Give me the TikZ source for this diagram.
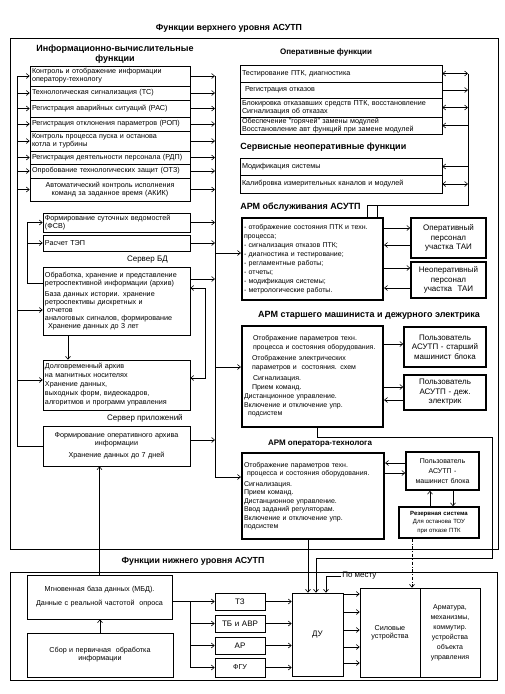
\documentclass[tikz,border=0pt]{standalone}
\usepackage{fontspec}
\setmainfont{Liberation Sans}
\usetikzlibrary{arrows.meta}
\newcommand{\txt}{\fontsize{7.2}{8}\selectfont}
\newcommand{\sml}{\fontsize{7}{8.5}\selectfont}
\newcommand{\hda}{\fontsize{9}{10.5}\selectfont\bfseries}
\newcommand{\hdb}{\fontsize{8}{9}\selectfont\bfseries}
\tikzstyle{blk}=[draw, rectangle, inner xsep = 2pt, inner ysep = 1pt, font = \txt, align = left]
\tikzstyle{arm}=[blk, line width = 2.2pt, font = \sml]
\tikzstyle{usr}=[blk, line width = 1.5pt, align = center, font = \fontsize{8}{9.5}\selectfont]
\tikzstyle{hd} =[inner sep = 0pt, font = \hdb]

\begin{document}
\begin{tikzpicture}[x = 1pt, y = -1pt, line width = .6pt, >={Straight Barb[length=3pt, width=5pt]}]
\useasboundingbox (0,0) rectangle (505,694);
\node (ttl) at (229,28) [hd, font = \fontsize{8.8}{10}\selectfont\bfseries] {Функции верхнего уровня АСУТП};
\draw (10,38) rectangle (498,549);
\draw (10,572) rectangle (497,680);
\coordinate (lb) at (17,0);
\coordinate (fb) at (27,0);
\coordinate (ib) at (205,0);
\coordinate (rb) at (215,0);
\coordinate (ob) at (468,0);
\coordinate (mb) at (190,0);
%%%%%%%%%%%%%%%%%%%%%%%
% information functions
\node (ivf) at (115,54) [hd, font = \hda, align = center] {Информационно-вычислительные\\функции};
\node (k1) at (110,76) [blk, text width = 156, minimum height = 20] {Контроль и отображение информации\\оператору-технологу};
\node (k2) at (110,93) [blk, text width = 156, minimum height = 14] {Технологическая сигнализация (ТС)};
\node (k3) at (110,108.5) [blk, text width = 156, minimum height = 17] {Регистрация аварийных ситуаций (РАС)};
\node (k4) at (110,124) [blk, text width = 156, minimum height = 14] {Регистрация отклонения параметров (РОП)};
\node (k5) at (110,141) [blk, text width = 156, minimum height = 20] {Контроль процесса пуска и останова\\котла и турбины};
\node (k6) at (110,157.5) [blk, text width = 156, minimum height = 13] {Регистрация деятельности персонала (РДП)};
\node (k7) at (110,171) [blk, text width = 156, minimum height = 14] {Опробование технологических защит (ОТЗ)};
\node (k8) at (110,189.5) [blk, text width = 156, minimum height = 23, align = center] {Автоматический контроль исполнения\\команд за заданное время (АКИК)};
\node (fsv) at (116.5,222.5) [blk, text width = 143, minimum height = 19] {Формирование суточных ведомостей\\(ФСВ)};
\node (tep) at (116.5,243) [blk, text width = 143, minimum height = 16] {Расчет ТЭП};
\node (sbd) at (168,260) [anchor = east, inner sep = 0pt, font = \fontsize{8}{9}\selectfont] {Сервер БД};
\node (db) at (116.5,301) [blk, text width = 143, minimum height = 68] {Обработка, хранение и представление\\ретроспективной информации (архив)\\[3pt]База данных истории. хранение\\ретроспективы дискретных и\\\hspace*{2pt}отчетов\\аналоговых сигналов, формирование\\\hspace*{3pt}Хранение данных до 3 лет};
\node (la) at (116.5,385) [blk, text width = 143, minimum height = 50, font = \fontsize{7.2}{9}\selectfont] {Долговременный архив\\на магнитных носителях\\Хранение данных,\\выходных форм, видеокадров,\\алгоритмов и программ управления};
\node (spr) at (183,418) [anchor = east, inner sep = 0pt, font = \fontsize{8}{9}\selectfont] {Сервер приложений};
\node (oa) at (116.5,446) [blk, text width = 143, minimum height = 40, align = center] {Формирование оперативного архива\\информации\\[4pt]Хранение данных до 7 дней};
%%%%%%%%%%%%%%%%%%%%%%%
% operative and service functions
\node (opf) at (326,52) [hd] {Оперативные функции};
\node (o1) at (341,73.5) [blk, text width = 198, minimum height = 17] {Тестирование ПТК, диагностика};
\node (o2) at (341,90) [blk, text width = 198, minimum height = 16] {\hspace*{3pt}Регистрация отказов};
\node (o3) at (341,107.5) [blk, text width = 198, minimum height = 19, font = \fontsize{7.2}{7.5}\selectfont] {Блокировка отказавших средств ПТК, восстановление\\Сигнализация об отказах};
\node (o4) at (341,125.5) [blk, text width = 198, minimum height = 17, font = \fontsize{7.2}{7.5}\selectfont] {Обеспечение "горячей" замены модулей\\Восстановление авт функций при замене модулей};
\node (snf) at (240,147) [hd, anchor = west, font = \hda] {Сервисные неоперативные функции};
\node (s1) at (341,166.5) [blk, text width = 198, minimum height = 17] {Модификация системы};
\node (s2) at (341,184) [blk, text width = 198, minimum height = 18] {Калибровка измерительных каналов и модулей};
%%%%%%%%%%%%%%%%%%%%%%%
% workstations
\node (h1) at (240,207) [hd, anchor = west, font = \hda] {АРМ обслуживания АСУТП};
\node (arm1) at (312.5,259) [arm, text width = 137, minimum height = 82, font = \fontsize{7}{9}\selectfont] {- отображение состояния ПТК и техн.\\процесса;\\- сигнализация отказов ПТК;\\- диагностика и тестирование;\\- регламентные работы;\\- отчеты;\\- модификация системы;\\- метрологические работы.};
\node (op1) at (448.5,238) [usr, text width = 71, minimum height = 40] {Оперативный\\персонал\\участка ТАИ};
\node (op2) at (448.5,280) [usr, text width = 71, minimum height = 36] {Неоперативный\\персонал\\участка \ ТАИ};
\node (h2) at (369,315) [hd, font = \hda] {АРМ старшего машиниста и дежурного электрика};
\node (arm2) at (312.5,376.5) [arm, text width = 137, minimum height = 101] {\hspace*{9pt}Отображение параметров техн.\\\hspace*{9pt}процесса и состояния оборудования.\\[3pt]\hspace*{8pt}Отображение электрических\\\hspace*{8pt}параметров и \ состояния. схем\\[3pt]\hspace*{9pt}Сигнализация.\\\hspace*{8pt}Прием команд.\\[1pt]Дистанционное управление.\\Включение и отключение упр.\\\hspace*{4pt}подсистем};
\node (u1) at (445,347) [usr, text width = 78, minimum height = 40] {Пользователь\\АСУТП - старший\\машинист блока};
\node (u2) at (445,392.5) [usr, text width = 78, minimum height = 35] {Пользователь\\АСУТП - деж.\\электрик};
\node (h3) at (320,444) [hd] {АРМ оператора-технолога};
\node (arm3) at (313,496) [arm, text width = 138, minimum height = 86] {Отображение параметров техн.\\\hspace*{3pt}процесса и состояния оборудования.\\[2pt]Сигнализация.\\Прием команд.\\Дистанционное управление.\\Ввод заданий регуляторам.\\Включение и отключение упр.\\подсистем};
\node (u3) at (442.5,471) [usr, text width = 69, minimum height = 38, font = \fontsize{7}{10}\selectfont] {Пользователь\\АСУТП -\\машинист блока};
\node (rs) at (439,522.5) [usr, text width = 76, minimum height = 31, font = \fontsize{6}{8.5}\selectfont] {\textbf{Резервная система}\\Для останова ТОУ\\при отказе ПТК};
%%%%%%%%%%%%%%%%%%%%%%%
% lower level
\node (h4) at (193,561) [hd, font = \fontsize{8.8}{10}\selectfont\bfseries] {Функции нижнего уровня АСУТП};
\node (mbd) at (99.5,597) [blk, text width = 141, minimum height = 44, align = center] {Мгновенная база данных (МБД).\\[6pt]Данные с реальной частотой \ опроса};
\node (sb) at (100,655) [blk, text width = 142, minimum height = 44, align = center] {Сбор и первичная \ обработка\\информации};
\node (t3) at (240,601.5) [blk, text width = 46, minimum height = 17, align = center, font = \fontsize{8}{9}\selectfont] {ТЗ};
\node (tb) at (240,623.5) [blk, text width = 46, minimum height = 17, align = center, font = \fontsize{8}{9}\selectfont] {ТБ и АВР};
\node (ar) at (240,645.5) [blk, text width = 46, minimum height = 17, align = center, font = \fontsize{8}{9}\selectfont] {АР};
\node (fgu) at (240,667.5) [blk, text width = 46, minimum height = 19, align = center] {ФГУ};
\node (du) at (317.5,634.5) [blk, text width = 47, minimum height = 83, align = center, font = \fontsize{8}{9}\selectfont] {ДУ};
\node (sil) at (390,632.5) [blk, text width = 56, minimum height = 89, align = center] {Силовые\\устройства};
\node (arm) at (450,632.5) [blk, text width = 56, minimum height = 89, align = center, font = \fontsize{7}{10}\selectfont] {Арматура,\\механизмы,\\коммутир.\\устройства\\объекта\\управления};
\node (pm) at (341,576) [anchor = west, inner sep = 1pt, font = \fontsize{8}{9}\selectfont] {По месту};
%%%%%%%%%%%%%%%%%%%%%%%
%%%%%%%%%%%%%%%%%%%%%%%
% left bus
\draw (oa.west) -- (lb |- oa) -- (lb |- k1);
\draw [->] (lb |- k1) to (k1.west);
\draw [->] (lb |- k2) to (k2.west);
\draw [->] (lb |- k3) to (k3.west);
\draw [->] (lb |- k4) to (k4.west);
\draw [->] (lb |- k5) to (k5.west);
\draw [->] (lb |- k6) to (k6.west);
\draw [->] (lb |- k7) to (k7.west);
\draw [->] (lb |- k8) to (k8.west);
\draw [->] (lb |- 0,310) to (db.west |- 0,310);
\draw [->] (lb |- 0,380) to (la.west |- 0,380);
% right bus
\draw [->] (rb |- k1) -- (rb |- 0,477) -- (arm3.west |- 0,477);
\draw [->] (k1.east) to (rb |- k1);
\draw [->] (k2.east) to (rb |- k2);
\draw [->] (k3.east) to (rb |- k3);
\draw [->] (k4.east) to (rb |- k4);
\draw [->] (k5.east) to (rb |- k5);
\draw [->] (k6.east) to (rb |- k6);
\draw [->] (k7.east) to (rb |- k7);
\draw [->] (k8.east) to (rb |- k8);
\draw [->] (fsv.east) to (rb |- fsv);
\draw [->] (tep.east) to (rb |- tep);
\draw [->] (db.east |- 0,279) to (rb |- 0,279);
\draw [->] (oa.east |- 0,440) to (rb |- 0,440);
\draw [->] (rb |- 0,253) to (arm1.west |- 0,253);
\draw [->] (rb |- 0,367) to (arm2.west |- 0,367);
\draw [<->] (db.east |- 0,288) -- (ib |- 0,288) -- (ib |- 0,378) -- (la.east |- 0,378);
% archives
\draw [->] (db.west |- 0,283) -- (fb |- 0,283) -- (fb |- fsv) -- (fsv.west);
\draw [->] (fb |- tep) to (tep.west);
\draw [->] (db.south -| 68,0) to (la.north -| 68,0);
\draw [->] (mbd.north) to (mbd.north |- oa.south);
\draw [->] (sb.north) to (sb.north |- mbd.south);
% operative bus
\draw (ob |- o1) -- (ob |- 0,205) -- (367,205) -- (arm1.north -| 367,0);
\draw (377,205) to (arm1.north -| 377,0);
\draw [<->] (o1.east) to (ob |- o1);
\draw [->] (o2.east) to (ob |- o2);
\draw [<->] (o3.east) to (ob |- o3);
\draw [<-] (o4.east) to (ob |- o4);
\draw [<-] (s1.east) to (ob |- s1);
\draw [<->] (s2.east) to (ob |- s2);
% workstations
\draw [->] (arm1.east |- 0,228) to (op1.west |- 0,228);
\draw [<-] (arm1.east |- 0,245) to (op1.west |- 0,245);
\draw [->] (arm1.east |- 0,268) to (op2.west |- 0,268);
\draw [<-] (arm1.east |- 0,288) to (op2.west |- 0,288);
\draw [->] (arm2.east |- 0,344) to (u1.west |- 0,344);
\draw [->] (arm2.east |- 0,387) to (u2.west |- 0,387);
\draw [<-] (arm2.east |- 0,400) to (u2.west |- 0,400);
\draw [<-] (arm3.east |- 0,463) to (u3.west |- 0,463);
\draw [->] (arm3.east |- 0,473) to (u3.west |- 0,473);
\draw [->] (rs.north -| 430,0) to (u3.south -| 430,0);
\draw [->] (u3.south -| 453,0) to (rs.north -| 453,0);
% to lower level
\draw [->] (arm2.south -| 317,0) -- (317,437) -- (492,437) -- (492,558) -- (316,558) -- (du.north -| 316,0);
\draw [->] (arm3.south -| 308,0) to (du.north -| 308,0);
\draw [->, dash dot] (rs.south -| 412,0) to (sil.north -| 412,0);
\draw [->] (pm.west) -- (326,576) -- (du.north -| 326,0);
% lower level
\draw (mbd.east |- t3) -- (mb |- t3) -- (mb |- fgu);
\draw [->] (mb |- t3) to (t3.west);
\draw [->] (mb |- tb) to (tb.west);
\draw [->] (mb |- ar) to (ar.west);
\draw [->] (mb |- fgu) to (fgu.west);
\draw [->] (t3.east) to (du.west |- t3);
\draw [->] (tb.east) to (du.west |- tb);
\draw [->] (ar.east) to (du.west |- ar);
\draw [->] (fgu.east) to (du.west |- fgu);
\draw [->] (du.east |- 0,594) to (sil.west |- 0,594);
\draw [->] (du.east |- 0,612) to (sil.west |- 0,612);
\draw [->] (du.east |- 0,630) to (sil.west |- 0,630);
\draw [->] (du.east |- 0,647) to (sil.west |- 0,647);
\draw [->] (du.east |- 0,663) to (sil.west |- 0,663);
\end{tikzpicture}
\end{document}
